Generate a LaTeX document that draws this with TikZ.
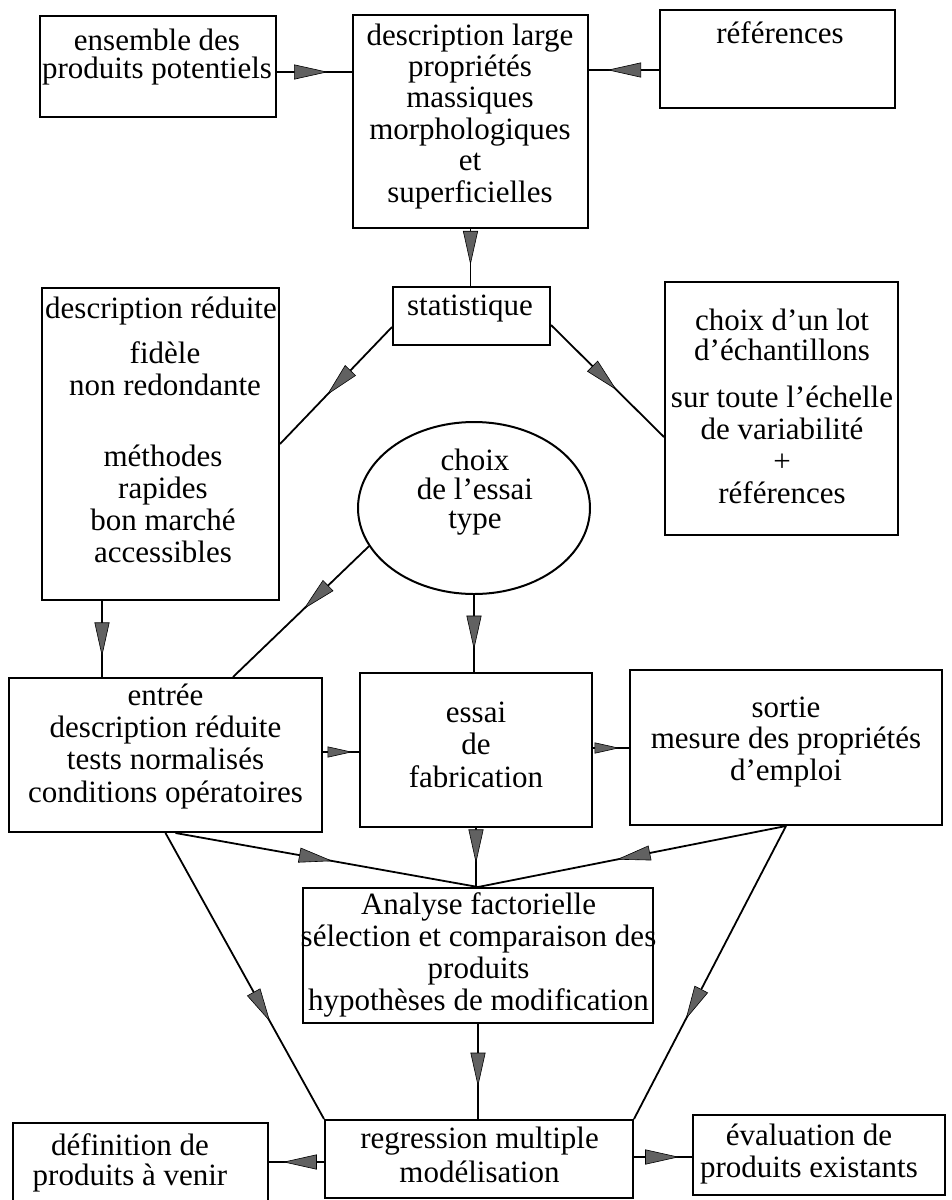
\documentclass[tikz,border=0pt]{standalone}
\usepackage{fontspec}
\setmainfont{Liberation Serif}
\usetikzlibrary{arrows.meta,decorations.markings,shapes.geometric}
\begin{document}
\begin{tikzpicture}[x=1pt,y=-1pt,
  box/.style={draw,line width=2pt,inner sep=0pt,rectangle},
  txt/.style={align=center,inner sep=0pt,anchor=base,font=\fontsize{31}{#1}\selectfont},
  txt/.default=31.5,
  conn/.style={line width=1.8pt},
  midarr/.style={postaction={decorate,decoration={markings,mark=at position #1 with {\arrow{Triangle[length=34pt,width=15pt,fill=black!62,line width=0.6pt]}}}}},
  midarrs/.style={postaction={decorate,decoration={markings,mark=at position #1 with {\arrow{Triangle[length=25pt,width=11pt,fill=black!62,line width=0.6pt]}}}}}
]
\useasboundingbox[fill=white] (0,0) rectangle (951,1200);

% boxes and texts (text nodes anchored at the baseline of their last line)
\node[box,minimum width=236,minimum height=101] (A) at (158,66.5) {};
\node[txt=28] (tA) at (157,78) {ensemble des\\produits potentiels};

\node[box,minimum width=235,minimum height=213] (B) at (470.5,121.5) {};
\node[txt=31.4] (tB) at (470,202) {description large\\propriétés\\massiques\\morphologiques\\et\\superficielles};

\node[box,minimum width=235,minimum height=98] (C) at (777.5,59) {};
\node[txt] (tC) at (780,43) {références};

\node[box,minimum width=157,minimum height=58] (S) at (471.5,316) {};
\node[txt] (tS) at (470,315) {statistique};

\node[box,minimum width=237,minimum height=312] (D) at (160.5,444) {};
\node[txt] (tD1) at (161,318) {description réduite};
\node[txt=32] (tD2) at (165,395) {fidèle\\non redondante};
\node[txt=31.7] (tD3) at (163,562) {méthodes\\rapides\\bon marché\\accessibles};

\node[box,minimum width=233,minimum height=253] (E) at (781.5,408.5) {};
\node[txt=30] (tE1) at (782,360) {choix d’un lot\\d’échantillons};
\node[txt=32] (tE2) at (782,503) {sur toute l’échelle\\de variabilité\\+\\références};

\node[draw,ellipse,line width=2pt,inner sep=0pt,minimum width=232,minimum height=172] (Ell) at (474,508) {};
\node[txt=29] (tEll) at (475,528) {choix\\de l’essai\\type};

\node[box,minimum width=313,minimum height=154] (F) at (165.5,755) {};
\node[txt=32.3] (tF) at (165.5,802) {entrée\\description réduite\\tests normalisés\\conditions opératoires};

\node[box,minimum width=232,minimum height=154] (G) at (476,750) {};
\node[txt=32.5] (tG) at (476,787) {essai\\de\\fabrication};

\node[box,minimum width=312,minimum height=155] (H) at (786,747.5) {};
\node[txt=31.5] (tH) at (786,780) {sortie\\mesure des propriétés\\d’emploi};

\node[box,minimum width=350,minimum height=135] (I) at (478,955.5) {};
\node[txt=31.7] (tI) at (478.5,1010) {Analyse factorielle\\sélection et comparaison des\\produits\\hypothèses de modification};

\node[box,minimum width=308,minimum height=78] (J) at (479,1159) {};
\node[txt=34] (tJ) at (479.5,1182) {regression multiple\\modélisation};

\node[box,minimum width=255,minimum height=81] (K) at (140.5,1163.5) {};
\node[txt=30] (tK) at (130,1185) {définition de\\produits à venir};

\node[box,minimum width=252,minimum height=80] (L) at (819,1155) {};
\node[txt=32] (tL) at (809,1177) {évaluation de\\produits existants};

% helper coordinates
\coordinate (ab) at ([yshift=-5.5pt]A.east);
\coordinate (cb) at ([yshift=-11pt]C.west);
\coordinate (sd) at ([yshift=-11pt]S.west);
\coordinate (se) at ([yshift=-9pt]S.east);
\coordinate (ee) at ([yshift=-28.5pt]E.west);
\coordinate (ef) at ([xshift=67.5pt]F.north);
\coordinate (df) at ([xshift=-58.5pt]D.south);
\coordinate (fg) at ([yshift=3pt]F.east);
\coordinate (gh) at ([yshift=2pt]G.east);
\coordinate (fi) at ([xshift=10pt]F.south);
\coordinate (jk) at ([yshift=-3pt]J.west);
\coordinate (jl) at ([yshift=2pt]J.east);

% connectors
\draw[conn,midarr=0.68] (ab) -- (ab -| B.west);
\draw[conn,midarr=0.74] (cb) -- (cb -| B.east);
\draw[conn,midarr=0.63] (B.south) -- (B.south |- S.north);
\draw[conn,midarr=0.58] (sd) -- (D.east);
\draw[conn,midarr=0.58] (se) -- (ee);
\draw[conn,midarr=0.48] (Ell.200) -- (ef);
\draw[conn,midarr=0.73] (df) -- (df |- F.north);
\draw[conn,midarr=0.71] (Ell.south) -- (Ell.south |- G.north);
\draw[conn,midarrs=0.82] (fg) -- (fg -| G.west);
\draw[conn,midarrs=0.74] (gh) -- (gh -| H.west);
\draw[conn,midarr=0.52] (fi) -- (I.north);
\draw[conn,midarr=0.6] (G.south) -- (G.south |- I.north);
\draw[conn,midarr=0.55] (H.south) -- (I.north);
\draw[conn,midarr=0.66] (F.south) -- (J.north west);
\draw[conn,midarr=0.66] (H.south) -- (J.north east);
\draw[conn,midarr=0.66] (I.south) -- (I.south |- J.north);
\draw[conn,midarr=0.75] (jk) -- (jk -| K.east);
\draw[conn,midarr=0.78] (jl) -- (jl -| L.west);
\end{tikzpicture}
\end{document}
